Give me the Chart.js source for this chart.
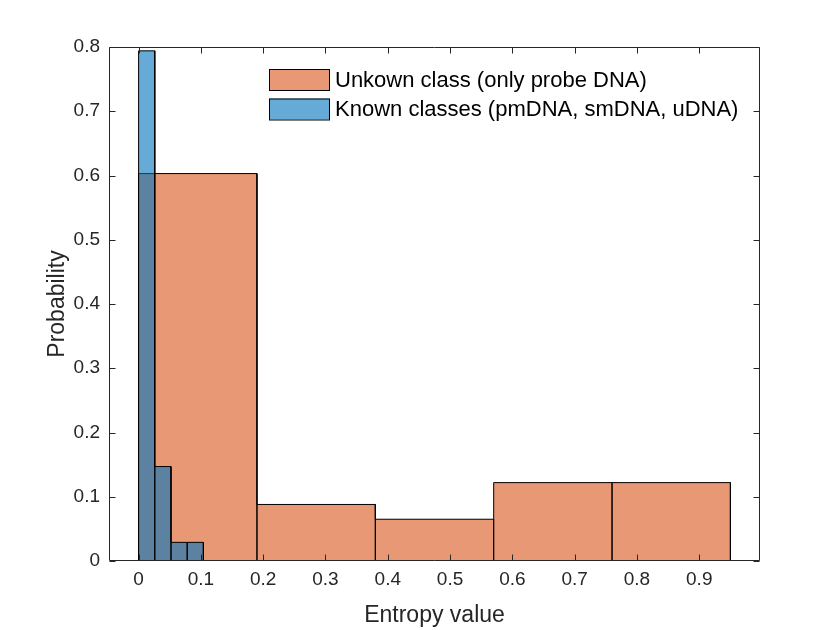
<!DOCTYPE html>
<html>
<head>
<meta charset="utf-8">
<script src="https://cdn.jsdelivr.net/npm/chart.js@4.4.1/dist/chart.umd.min.js"></script>
<style>
  html, body { margin: 0; padding: 0; background: #ffffff; }
  #wrap { width: 840px; height: 630px; }
</style>
</head>
<body>
<div id="wrap"><canvas id="c" width="840" height="630"></canvas></div>
<script>
// ---- data ----
const seriesLabels = ['Unkown class (only probe DNA)', 'Known classes (pmDNA, smDNA, uDNA)'];
const unknownEdges = [0, 0.19, 0.38, 0.57, 0.76, 0.95];
const unknownValues = [0.603, 0.088, 0.065, 0.122, 0.122];
const knownEdges = [0, 0.026, 0.052, 0.078, 0.104];
const knownValues = [0.794, 0.147, 0.029, 0.029];
const xTickValues = [0, 0.1, 0.2, 0.3, 0.4, 0.5, 0.6, 0.7, 0.8, 0.9];
const yTickValues = [0, 0.1, 0.2, 0.3, 0.4, 0.5, 0.6, 0.7, 0.8];
const xTitle = 'Entropy value';
const yTitle = 'Probability';

// histogram outline built from edges and values
function outline(edges, values) {
  const pts = [];
  for (let i = 0; i < values.length; i++) {
    pts.push({x: edges[i], y: 0});
    pts.push({x: edges[i], y: values[i]});
    pts.push({x: edges[i + 1], y: values[i]});
    pts.push({x: edges[i + 1], y: 0});
  }
  return pts;
}

const FONT = '"Liberation Sans", Arial, Helvetica, sans-serif';
const AX = '#262626';

const boxAndTicks = {
  id: 'boxAndTicks',
  afterDatasetsDraw(chart) {
    const {ctx, chartArea: a, scales: {x, y}} = chart;
    const L = Math.round(a.left) + 0.5, R = Math.round(a.right) - 0.5;
    const T = Math.round(a.top) + 0.5, B = Math.round(a.bottom) - 0.5;
    const len = 6;
    ctx.save();
    ctx.strokeStyle = AX;
    ctx.lineWidth = 1;
    ctx.beginPath();
    ctx.rect(L, T, R - L, B - T);
    xTickValues.forEach(v => {
      const px = Math.round(x.getPixelForValue(v)) + 0.5;
      ctx.moveTo(px, B); ctx.lineTo(px, B - len);
      ctx.moveTo(px, T); ctx.lineTo(px, T + len);
    });
    yTickValues.forEach(v => {
      const py = Math.round(y.getPixelForValue(v)) + 0.5;
      ctx.moveTo(L, py); ctx.lineTo(L + len, py);
      ctx.moveTo(R, py); ctx.lineTo(R - len, py);
    });
    ctx.stroke();
    ctx.restore();
  },
  afterDraw(chart) {
    const {ctx} = chart;
    const ds = chart.data.datasets;
    const order = [0, 1];
    const boxX = 269, boxW = 60, boxH = 21;
    const rows = [69, 98.5];
    ctx.save();
    ctx.font = '22px ' + FONT;
    ctx.textBaseline = 'middle';
    ctx.textAlign = 'left';
    order.forEach((di, k) => {
      const top = rows[k];
      ctx.fillStyle = '#ffffff';
      ctx.fillRect(boxX, top, boxW, boxH);
      ctx.fillStyle = ds[di].backgroundColor;
      ctx.fillRect(boxX, top, boxW, boxH);
      ctx.strokeStyle = '#000000';
      ctx.lineWidth = 1;
      ctx.strokeRect(boxX + 0.5, top + 0.5, boxW, boxH);
      ctx.fillStyle = '#000000';
      ctx.fillText(ds[di].label, 335, top + boxH / 2 + 1);
    });
    ctx.restore();
  }
};

new Chart(document.getElementById('c'), {
  type: 'line',
  data: {
    datasets: [
      {
        label: seriesLabels[0],
        data: outline(unknownEdges, unknownValues),
        backgroundColor: 'rgba(217,83,25,0.6)',
        borderColor: '#000000',
        borderWidth: 1,
        fill: 'origin',
        pointRadius: 0,
        tension: 0,
        order: 1
      },
      {
        label: seriesLabels[1],
        data: outline(knownEdges, knownValues),
        backgroundColor: 'rgba(0,114,189,0.6)',
        borderColor: '#000000',
        borderWidth: 1,
        fill: 'origin',
        pointRadius: 0,
        tension: 0,
        order: 0
      }
    ]
  },
  options: {
    responsive: false,
    animation: false,
    devicePixelRatio: 1,
    layout: { padding: { left: 0, top: 47, right: 80, bottom: 0 } },
    plugins: {
      legend: { display: false },
      tooltip: { enabled: false }
    },
    scales: {
      x: {
        type: 'linear',
        min: -0.0475,
        max: 0.9975,
        afterFit: s => { s.height = 69; },
        afterBuildTicks: s => { s.ticks = xTickValues.map(v => ({value: v})); },
        grid: { display: false, drawTicks: false },
        border: { display: false },
        ticks: {
          font: { family: FONT, size: 19 },
          color: AX,
          padding: 7,
          maxRotation: 0,
          autoSkip: false,
          callback: v => String(Math.round(v * 10) / 10)
        },
        title: {
          display: true,
          text: xTitle,
          color: AX,
          font: { family: FONT, size: 23, lineHeight: 1.2 },
          padding: { top: 0, bottom: 1 }
        }
      },
      y: {
        min: 0,
        max: 0.8,
        afterFit: s => { s.width = 109; },
        afterBuildTicks: s => { s.ticks = yTickValues.map(v => ({value: v})); },
        grid: { display: false, drawTicks: false },
        border: { display: false },
        ticks: {
          font: { family: FONT, size: 19 },
          color: AX,
          padding: 9,
          autoSkip: false,
          callback: v => String(Math.round(v * 10) / 10)
        },
        title: {
          display: true,
          text: yTitle,
          color: AX,
          font: { family: FONT, size: 23, lineHeight: 1.2 },
          padding: { top: 44, bottom: 0 }
        }
      }
    }
  },
  plugins: [boxAndTicks]
});
</script>
</body>
</html>
